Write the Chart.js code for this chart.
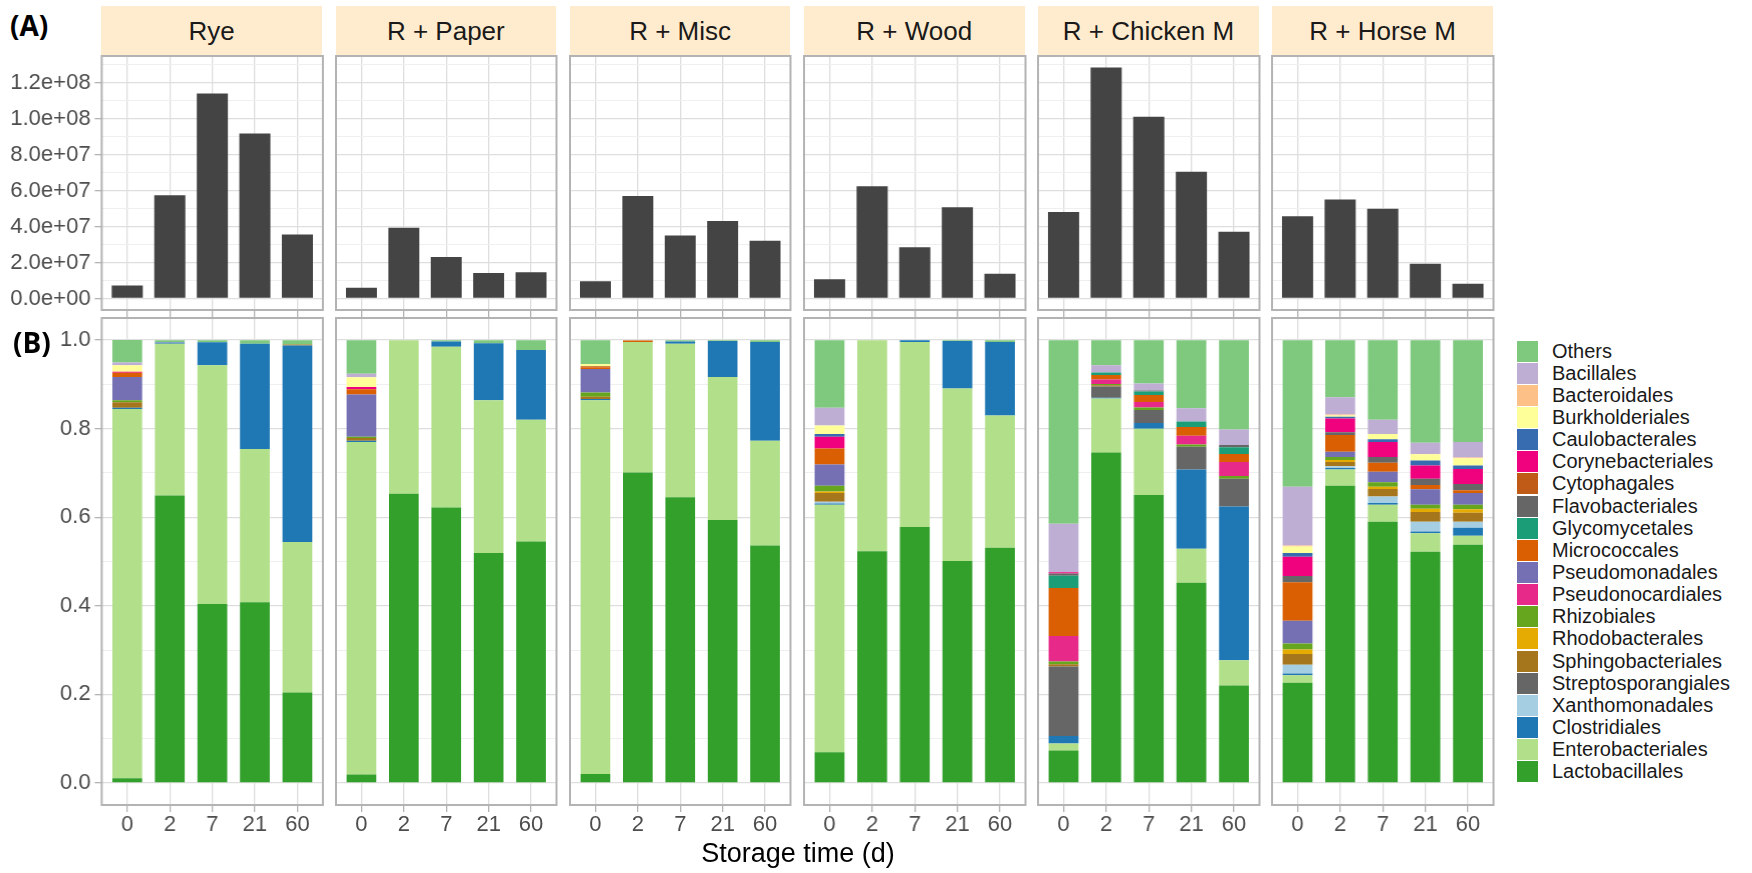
<!DOCTYPE html>
<html>
<head>
<meta charset="utf-8">
<script src="https://cdn.jsdelivr.net/npm/chart.js@4.4.1/dist/chart.umd.min.js"></script>
<style>
  html, body { margin: 0; padding: 0; background: #fff; }
  #fig { position: relative; width: 1752px; height: 873px; overflow: hidden; font-family: "Liberation Sans", Arial, sans-serif; }
  .box { position: absolute; }
  .strip { position: absolute; background: #ffebcd; color: #1a1a1a; font-size: 26px; display: flex; align-items: center; justify-content: center; }
  .tag { position: absolute; font-family: "Open Sans", "DejaVu Sans", sans-serif; font-weight: bold; font-size: 28px; color: #000; }
  .xtitle { position: absolute; font-size: 27px; color: #000; transform: translateX(-50%); white-space: nowrap; }
  #legend { position: absolute; left: 1517px; top: 340px; width: 235px; }
  .lrow { display: flex; align-items: center; height: 22.15px; }
  .lkey { flex: none; width: 21px; height: 21px; margin-right: 14px; }
  .ltxt { flex: none; font-size: 20px; color: #1a1a1a; white-space: nowrap; }
</style>
</head>
<body>
<div id="fig"></div>
<script>
// facets, time points
const facets = ["Rye", "R + Paper", "R + Misc", "R + Wood", "R + Chicken M", "R + Horse M"];
const days = ["0", "2", "7", "21", "60"];

// (A) total counts, one row per facet
const totalCounts = [
  [7.2e6, 57.4e6, 113.9e6, 91.7e6, 35.6e6],
  [5.9e6, 39.3e6, 23.0e6, 14.1e6, 14.6e6],
  [9.6e6, 56.9e6, 35.0e6, 43.0e6, 32.0e6],
  [10.7e6, 62.4e6, 28.5e6, 50.7e6, 13.7e6],
  [48.1e6, 128.3e6, 100.9e6, 70.4e6, 37.0e6],
  [45.7e6, 55.0e6, 49.8e6, 19.3e6, 8.1e6]
];
const countTicks = [0, 2e7, 4e7, 6e7, 8e7, 1e8, 1.2e8];

// (B) relative abundance per order, one row per facet
const lactobacillales = [[0.0105, 0.649, 0.404, 0.408, 0.204], [0.019, 0.653, 0.622, 0.519, 0.545], [0.020, 0.701, 0.645, 0.594, 0.536], [0.069, 0.523, 0.578, 0.501, 0.531], [0.073, 0.746, 0.650, 0.452, 0.220], [0.226, 0.671, 0.590, 0.522, 0.538]];
const enterobacteriales = [[0.834, 0.343, 0.539, 0.346, 0.340], [0.751, 0.347, 0.363, 0.345, 0.275], [0.844, 0.295, 0.347, 0.323, 0.237], [0.559, 0.477, 0.418, 0.390, 0.299], [0.016, 0.122, 0.150, 0.077, 0.057], [0.017, 0.037, 0.038, 0.042, 0.020]];
const clostridiales = [[0.003, 0.002, 0.052, 0.238, 0.444], [0.003, 0, 0.012, 0.129, 0.158], [0.003, 0, 0.005, 0.081, 0.223], [0.003, 0, 0.004, 0.107, 0.166], [0.017, 0.002, 0.013, 0.179, 0.347], [0.004, 0.003, 0.004, 0.004, 0.018]];
const xanthomonadales = [[0, 0, 0, 0, 0], [0, 0, 0, 0, 0], [0, 0, 0, 0, 0], [0.004, 0, 0, 0, 0], [0, 0, 0, 0, 0], [0.020, 0.004, 0.015, 0.022, 0.014]];
const streptosporangiales = [[0, 0, 0, 0, 0], [0, 0, 0, 0, 0], [0, 0, 0, 0, 0], [0, 0, 0, 0, 0], [0.157, 0.025, 0.029, 0.051, 0.063], [0, 0, 0, 0, 0]];
const sphingobacteriales = [[0.012, 0, 0, 0, 0.002], [0.006, 0, 0, 0, 0], [0.005, 0, 0, 0, 0], [0.020, 0, 0, 0, 0], [0.005, 0.003, 0, 0, 0], [0.024, 0.010, 0.017, 0.022, 0.020]];
const rhodobacterales = [[0, 0, 0, 0, 0], [0, 0, 0, 0, 0], [0, 0, 0, 0, 0], [0.003, 0, 0, 0, 0], [0, 0, 0, 0, 0], [0.010, 0.004, 0.005, 0.007, 0.008]];
const rhizobiales = [[0.005, 0, 0, 0, 0], [0.003, 0, 0, 0, 0], [0.010, 0, 0, 0, 0], [0.013, 0, 0, 0, 0], [0.006, 0.003, 0.006, 0.005, 0.006], [0.014, 0.007, 0.010, 0.009, 0.010]];
const pseudonocardiales = [[0, 0, 0, 0, 0], [0, 0, 0, 0, 0], [0, 0, 0, 0, 0], [0, 0, 0, 0, 0], [0.058, 0.010, 0.012, 0.020, 0.032], [0, 0, 0, 0, 0]];
const pseudomonadales = [[0.052, 0.001, 0, 0, 0], [0.095, 0, 0, 0, 0], [0.053, 0, 0, 0, 0], [0.048, 0, 0, 0, 0], [0, 0, 0, 0, 0], [0.051, 0.012, 0.024, 0.035, 0.027]];
const micrococcales = [[0.010, 0, 0, 0, 0], [0.012, 0, 0, 0, 0], [0.004, 0.003, 0, 0, 0], [0.036, 0, 0, 0, 0], [0.108, 0.010, 0.016, 0.020, 0.018], [0.087, 0.038, 0.020, 0.010, 0.006]];
const glycomycetales = [[0, 0, 0, 0, 0], [0, 0, 0, 0, 0], [0, 0, 0, 0, 0], [0, 0, 0, 0, 0], [0.028, 0.006, 0.008, 0.012, 0.015], [0, 0, 0, 0, 0]];
const flavobacteriales = [[0, 0, 0, 0, 0], [0, 0, 0, 0, 0], [0, 0, 0, 0, 0], [0, 0, 0, 0, 0], [0.005, 0, 0.002, 0, 0.005], [0.014, 0.006, 0.013, 0.014, 0.014]];
const cytophagales = [[0, 0, 0, 0, 0], [0, 0, 0, 0, 0], [0.002, 0, 0, 0, 0], [0, 0, 0, 0, 0], [0, 0, 0, 0, 0], [0, 0, 0, 0, 0]];
const corynebacteriales = [[0.002, 0, 0, 0, 0], [0.005, 0, 0, 0, 0], [0, 0, 0, 0, 0], [0.027, 0, 0, 0, 0], [0.003, 0, 0, 0, 0], [0.044, 0.031, 0.034, 0.030, 0.034]];
const caulobacterales = [[0, 0, 0, 0, 0], [0, 0, 0, 0, 0], [0, 0, 0, 0, 0], [0.006, 0, 0, 0, 0], [0, 0, 0, 0, 0], [0.008, 0.004, 0.006, 0.011, 0.008]];
const burkholderiales = [[0.015, 0, 0, 0, 0], [0.022, 0, 0, 0, 0], [0.005, 0, 0, 0, 0], [0.019, 0, 0, 0, 0], [0, 0, 0, 0, 0], [0.015, 0.003, 0.012, 0.014, 0.016]];
const bacteroidales = [[0, 0, 0, 0, 0], [0, 0, 0, 0, 0], [0, 0, 0, 0, 0], [0, 0, 0, 0, 0], [0, 0, 0, 0, 0], [0.002, 0.002, 0, 0.001, 0.002]];
const bacillales = [[0.006, 0, 0, 0, 0], [0.008, 0, 0, 0, 0], [0, 0, 0, 0, 0], [0.040, 0, 0, 0, 0], [0.109, 0.016, 0.016, 0.030, 0.035], [0.133, 0.039, 0.032, 0.025, 0.035]];
const others = [[0.051, 0.005, 0.005, 0.008, 0.010], [0.076, 0, 0.003, 0.007, 0.022], [0.054, 0.001, 0.003, 0.002, 0.004], [0.153, 0, 0, 0.002, 0.004], [0.415, 0.057, 0.098, 0.154, 0.202], [0.331, 0.129, 0.180, 0.232, 0.230]];
const abundanceTicks = [0, 0.2, 0.4, 0.6, 0.8, 1.0];

// stack order, bottom to top
const orders = [
  ["Lactobacillales", lactobacillales, "#33a02c"],
  ["Enterobacteriales", enterobacteriales, "#b2df8a"],
  ["Clostridiales", clostridiales, "#1f78b4"],
  ["Xanthomonadales", xanthomonadales, "#a6cee3"],
  ["Streptosporangiales", streptosporangiales, "#666666"],
  ["Sphingobacteriales", sphingobacteriales, "#a6761d"],
  ["Rhodobacterales", rhodobacterales, "#e6ab02"],
  ["Rhizobiales", rhizobiales, "#66a61e"],
  ["Pseudonocardiales", pseudonocardiales, "#e7298a"],
  ["Pseudomonadales", pseudomonadales, "#7570b3"],
  ["Micrococcales", micrococcales, "#d95f02"],
  ["Glycomycetales", glycomycetales, "#1b9e77"],
  ["Flavobacteriales", flavobacteriales, "#666666"],
  ["Cytophagales", cytophagales, "#bf5b17"],
  ["Corynebacteriales", corynebacteriales, "#f0027f"],
  ["Caulobacterales", caulobacterales, "#386cb0"],
  ["Burkholderiales", burkholderiales, "#ffff99"],
  ["Bacteroidales", bacteroidales, "#fdc086"],
  ["Bacillales", bacillales, "#beaed4"],
  ["Others", others, "#7fc97f"]
];

// layout
const panelLeft = facets.map((f, i) => 101.4 + i * 234.2);
const panelW = 220.5;
const topY = 56, topH = 254;
const botY = 318, botH = 487;
const axisW = 101.4;
const gridMajor = "#dedede", gridMinor = "#efefef", tickCol = "#b3b3b3";

Chart.defaults.font.family = '"Liberation Sans", Arial, sans-serif';
Chart.defaults.font.size = 22;
Chart.defaults.color = "#4d4d4d";
Chart.defaults.animation = false;

const fig = document.getElementById("fig");

function sci(v) {
  if (v === 0) return "0.0e+00";
  const parts = v.toExponential(1).split("e");
  const n = parseInt(parts[1]);
  return parts[0] + "e" + (n < 0 ? "-" : "+") + String(Math.abs(n)).padStart(2, "0");
}

function noPad(s) {
  s.paddingTop = 0; s.paddingBottom = 0; s.paddingLeft = 0; s.paddingRight = 0;
}

const panelBorder = {
  id: "panelBorder",
  afterDraw(chart) {
    const a = chart.chartArea, c = chart.ctx;
    c.save();
    c.strokeStyle = "#b3b3b3";
    c.lineWidth = 2;
    c.strokeRect(a.left, a.top, a.right - a.left, a.bottom - a.top);
    c.restore();
  }
};

function xScale(showLabels, h) {
  return {
    type: "linear", min: 0.4, max: 5.6, stacked: true, offset: false,
    afterBuildTicks: s => { s.ticks = [1, 2, 3, 4, 5].map(v => ({ value: v })); },
    afterFit: s => { s.height = h; noPad(s); },
    border: { display: false },
    grid: { offset: false, color: gridMajor, lineWidth: 1.3, tickLength: 7, tickColor: tickCol },
    ticks: { display: showLabels, autoSkip: false, maxRotation: 0, padding: 0, callback: v => days[v - 1] }
  };
}

function yScale(first, min, max, step, labelTicks, fmt) {
  const isMajor = v => labelTicks.some(m => Math.abs(m - v) < 1e-9);
  return {
    type: "linear", min: min, max: max, stacked: true,
    afterBuildTicks: s => {
      const t = [];
      for (let k = 0; k * step <= max + 1e-9; k++) t.push({ value: +(k * step).toFixed(6) });
      s.ticks = t;
    },
    afterFit: s => { s.width = first ? axisW : 2; noPad(s); },
    border: { display: false },
    grid: {
      drawTicks: first, tickLength: 7,
      color: c => isMajor(c.tick.value) ? gridMajor : gridMinor,
      lineWidth: c => isMajor(c.tick.value) ? 1.3 : 1,
      tickColor: c => isMajor(c.tick.value) ? tickCol : "rgba(0,0,0,0)"
    },
    ticks: {
      display: first, autoSkip: false, padding: 4,
      callback: v => isMajor(v) ? fmt(v) : ""
    }
  };
}

function addChart(left, top, w, h, config) {
  const d = document.createElement("div");
  d.className = "box";
  Object.assign(d.style, { left: left + "px", top: top + "px", width: w + "px", height: h + "px" });
  const cv = document.createElement("canvas");
  d.appendChild(cv);
  fig.appendChild(d);
  config.options.responsive = true;
  config.options.maintainAspectRatio = false;
  config.options.devicePixelRatio = 1;
  config.options.layout = { padding: { top: 2, right: 2, left: 0, bottom: 0 } };
  config.options.plugins = { legend: { display: false }, tooltip: { enabled: false } };
  config.plugins = [panelBorder];
  return new Chart(cv, config);
}

facets.forEach((name, i) => {
  const first = i === 0;
  const yw = first ? axisW : 2;

  // strip header
  const s = document.createElement("div");
  s.className = "strip";
  Object.assign(s.style, { left: panelLeft[i] + "px", top: "6px", width: panelW + "px", height: (topY - 6) + "px" });
  s.textContent = name;
  fig.appendChild(s);

  // (A) counts
  addChart(panelLeft[i] - yw, topY - 2, yw + panelW + 2, topH + 2 + 8, {
    type: "bar",
    data: {
      datasets: [{
        data: totalCounts[i].map((v, j) => ({ x: j + 1, y: v })),
        backgroundColor: "#444444",
        categoryPercentage: 1, barPercentage: 0.73
      }]
    },
    options: {
      scales: {
        x: xScale(false, 8),
        y: yScale(first, -6.415e6, 134.7e6, 1e7, countTicks, sci)
      }
    }
  });

  // (B) relative abundance
  addChart(panelLeft[i] - yw, botY - 2, yw + panelW + 2, botH + 2 + 48, {
    type: "bar",
    data: {
      datasets: orders.map(o => ({
        label: o[0],
        data: o[1][i].map((v, j) => ({ x: j + 1, y: v })),
        backgroundColor: o[2],
        categoryPercentage: 1, barPercentage: 0.7
      }))
    },
    options: {
      scales: {
        x: xScale(true, 48),
        y: yScale(first, -0.05, 1.05, 0.1, abundanceTicks, v => v.toFixed(1))
      }
    }
  });
});

// tags and axis title
function addText(cls, text, style) {
  const d = document.createElement("div");
  d.className = cls;
  d.textContent = text;
  Object.assign(d.style, style);
  fig.appendChild(d);
}
addText("tag", "(A)", { left: "10px", top: "6px" });
addText("tag", "(B)", { left: "13px", top: "323px" });
addText("xtitle", "Storage time (d)", { left: "798px", top: "838px" });

// legend, top to bottom
const leg = document.createElement("div");
leg.id = "legend";
orders.slice().reverse().forEach(o => {
  const r = document.createElement("div");
  r.className = "lrow";
  r.innerHTML = '<div class="lkey" style="background:' + o[2] + '"></div><div class="ltxt">' + o[0] + "</div>";
  leg.appendChild(r);
});
fig.appendChild(leg);
</script>
</body>
</html>
